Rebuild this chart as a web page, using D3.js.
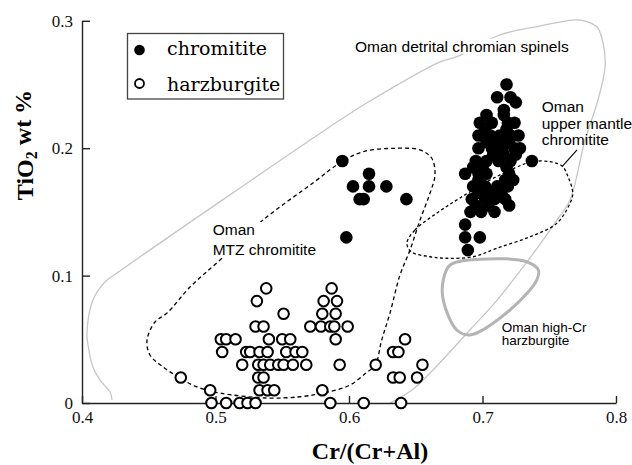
<!DOCTYPE html>
<html>
<head>
<meta charset="utf-8">
<script src="https://cdn.jsdelivr.net/npm/d3@7"></script>
<style>
  body { margin: 0; background: #fff; }
  svg { display: block; }
</style>
</head>
<body>
<svg id="chart" width="632" height="465"></svg>
<script>
// axis ticks
const xTicks = [0.4, 0.5, 0.6, 0.7, 0.8];
const yTicks = [0, 0.1, 0.2, 0.3];

// [Cr/(Cr+Al), TiO2 wt %]
const chromitite = [
    [0.595, 0.19], [0.615, 0.18], [0.603, 0.17], [0.615, 0.17], [0.628, 0.17],
    [0.608, 0.16], [0.611, 0.16], [0.643, 0.16], [0.598, 0.13],
    [0.718, 0.25],
    [0.711, 0.24], [0.721, 0.24], [0.725, 0.236],
    [0.716, 0.23],
    [0.703, 0.226], [0.716, 0.226],
    [0.698, 0.22], [0.707, 0.22], [0.719, 0.22], [0.724, 0.22],
    [0.702, 0.215], [0.718, 0.215],
    [0.697, 0.21], [0.706, 0.21], [0.713, 0.21], [0.721, 0.21], [0.727, 0.21],
    [0.703, 0.205], [0.712, 0.205], [0.720, 0.205],
    [0.697, 0.20], [0.707, 0.20], [0.715, 0.20], [0.724, 0.20], [0.728, 0.20],
    [0.708, 0.195], [0.716, 0.195], [0.725, 0.195],
    [0.695, 0.19], [0.703, 0.19], [0.712, 0.19], [0.721, 0.19], [0.737, 0.19],
    [0.693, 0.185], [0.700, 0.185], [0.718, 0.185],
    [0.687, 0.18], [0.697, 0.18], [0.703, 0.18], [0.720, 0.18],
    [0.697, 0.175], [0.717, 0.175], [0.723, 0.175],
    [0.693, 0.17], [0.702, 0.17], [0.711, 0.17], [0.719, 0.17],
    [0.697, 0.165], [0.706, 0.165], [0.714, 0.165],
    [0.692, 0.16], [0.702, 0.16], [0.709, 0.16], [0.717, 0.16],
    [0.695, 0.155], [0.704, 0.155], [0.720, 0.155],
    [0.691, 0.15], [0.699, 0.15], [0.709, 0.15],
    [0.687, 0.14],
    [0.687, 0.13], [0.698, 0.13],
    [0.689, 0.12]
];

const harzburgite = [
    [0.538, 0.09], [0.587, 0.09],
    [0.531, 0.08], [0.581, 0.08], [0.591, 0.08],
    [0.551, 0.07], [0.580, 0.07], [0.590, 0.07],
    [0.530, 0.06], [0.536, 0.06], [0.571, 0.06], [0.579, 0.06], [0.586, 0.06], [0.589, 0.06], [0.599, 0.06],
    [0.504, 0.05], [0.508, 0.05], [0.515, 0.05], [0.540, 0.05], [0.550, 0.05], [0.556, 0.05], [0.590, 0.05], [0.642, 0.05],
    [0.505, 0.04], [0.523, 0.04], [0.526, 0.04], [0.533, 0.04], [0.539, 0.04], [0.553, 0.04], [0.560, 0.04], [0.565, 0.04], [0.633, 0.04], [0.637, 0.04],
    [0.520, 0.03], [0.532, 0.03], [0.536, 0.03], [0.541, 0.03], [0.547, 0.03], [0.551, 0.03], [0.558, 0.03], [0.568, 0.03], [0.593, 0.03], [0.620, 0.03], [0.655, 0.03],
    [0.474, 0.02], [0.532, 0.02], [0.536, 0.02], [0.633, 0.02], [0.638, 0.02], [0.651, 0.02],
    [0.496, 0.01], [0.533, 0.01], [0.539, 0.01], [0.544, 0.01], [0.580, 0.01],
    [0.497, 0.00], [0.508, 0.00], [0.518, 0.00], [0.524, 0.00], [0.530, 0.00], [0.586, 0.00], [0.611, 0.00], [0.639, 0.00]
];

// field outlines, in data units
const detritalField = [
    [0.6307, 0.0], [0.6472, 0.0102], [0.6607, 0.0235], [0.6906, 0.0573], [0.7109, 0.0808],
    [0.7333, 0.1107], [0.7558, 0.1436], [0.7655, 0.1593], [0.7768, 0.2064], [0.7865, 0.2378],
    [0.7918, 0.2637], [0.7903, 0.2826], [0.7858, 0.2951], [0.7768, 0.2998], [0.7678, 0.3006],
    [0.7431, 0.2959], [0.7131, 0.2889], [0.6809, 0.2718], [0.6682, 0.2677], [0.617, 0.2378],
    [0.5933, 0.2221], [0.4262, 0.102], [0.4172, 0.095], [0.4082, 0.0808], [0.4037, 0.0549],
    [0.4045, 0.0455], [0.4082, 0.0283], [0.4135, 0.018], [0.421, 0.0086], [0.4225, 0.0024]
];

const mtzField = [
    [0.5945, 0.1894], [0.6107, 0.1973], [0.6332, 0.1999], [0.6532, 0.1986], [0.662, 0.1921],
    [0.6644, 0.179], [0.6607, 0.1648], [0.6532, 0.1436], [0.6457, 0.1201], [0.6382, 0.1005],
    [0.6307, 0.0706], [0.6245, 0.0494], [0.6195, 0.0293], [0.6135, 0.0243], [0.6007, 0.0141],
    [0.5805, 0.0078], [0.5633, 0.0049], [0.5386, 0.0039], [0.5034, 0.0078], [0.4861, 0.0126],
    [0.4734, 0.0196], [0.4607, 0.0283], [0.4509, 0.0377], [0.4487, 0.0494], [0.4547, 0.0636],
    [0.4637, 0.0706], [0.4809, 0.091], [0.5034, 0.1122], [0.5356, 0.1436], [0.573, 0.1727]
];

const upperMantleField = [
    [0.6434, 0.1256], [0.6494, 0.1358], [0.6659, 0.1491], [0.6831, 0.1609], [0.7056, 0.175],
    [0.7243, 0.1845], [0.7371, 0.1894], [0.7506, 0.1894], [0.7596, 0.186], [0.7641, 0.1776],
    [0.7676, 0.1646], [0.7655, 0.1567], [0.7556, 0.141], [0.7356, 0.1305], [0.7106, 0.1214],
    [0.6931, 0.1148], [0.6732, 0.1136], [0.6607, 0.1148], [0.6464, 0.1188]
];

const highCrField = [
    [0.6757, 0.1083], [0.6981, 0.1128], [0.7331, 0.1109], [0.7418, 0.1044], [0.7406, 0.0965],
    [0.7206, 0.073], [0.6906, 0.0534], [0.6807, 0.0573], [0.6706, 0.0808], [0.6706, 0.0965]
];

const leader = [[0.7708, 0.1986], [0.7596, 0.1855]];

const svg = d3.select("#chart");

const x = d3.scaleLinear().domain([0.4, 0.8]).range([82, 616]);
const y = d3.scaleLinear().domain([0, 0.3]).range([403, 20.8]);

const line = d3.line().x(d => x(d[0])).y(d => y(d[1]));

// outlines
svg.append("path")
    .attr("d", line.curve(d3.curveCatmullRom)(detritalField))
    .attr("fill", "none")
    .attr("stroke", "#c6c6c6")
    .attr("stroke-width", 1.3);

svg.append("path")
    .attr("d", line.curve(d3.curveCatmullRomClosed)(highCrField))
    .attr("fill", "none")
    .attr("stroke", "#b4b4b4")
    .attr("stroke-width", 3);

svg.append("path")
    .attr("d", line.curve(d3.curveCatmullRomClosed)(mtzField))
    .attr("fill", "none")
    .attr("stroke", "#000")
    .attr("stroke-width", 1.3)
    .attr("stroke-dasharray", "4,3");

svg.append("path")
    .attr("d", line.curve(d3.curveCatmullRomClosed)(upperMantleField))
    .attr("fill", "none")
    .attr("stroke", "#000")
    .attr("stroke-width", 1.3)
    .attr("stroke-dasharray", "3,2.5");

svg.append("path")
    .attr("d", line.curve(d3.curveLinear)(leader))
    .attr("stroke", "#000")
    .attr("stroke-width", 1.1);

// field labels
const notes = [
    {lines: ["Oman detrital chromian spinels"], px: 355, py: 51.7, size: 15.5, lh: 0, bg: true},
    {lines: ["Oman", "upper mantle", "chromitite"], px: 541.7, py: 111.7, size: 15.5, lh: 16.8, bg: false},
    {lines: ["Oman", "MTZ chromitite"], px: 212.7, py: 235, size: 15.5, lh: 20, bg: true},
    {lines: ["Oman high-Cr", "harzburgite"], px: 501.7, py: 331.7, size: 13.5, lh: 13.5, bg: false}
];

notes.forEach(n => {
    const g = svg.append("g");
    const t = g.append("text")
        .attr("font-family", "'Liberation Sans', Arial, sans-serif")
        .attr("font-size", n.size)
        .attr("fill", "#000");
    n.lines.forEach((s, i) => {
        t.append("tspan").attr("x", n.px).attr("y", n.py + i * n.lh).text(s);
    });
    if (n.bg) {
        const b = t.node().getBBox();
        g.insert("rect", "text")
            .attr("x", b.x - 1).attr("y", b.y + 1)
            .attr("width", b.width + 2).attr("height", b.height - 2)
            .attr("fill", "#fff");
    }
});

// axes
const xAxis = d3.axisBottom(x).tickValues(xTicks)
    .tickFormat(d3.format(".1f"))
    .tickSizeInner(-7).tickSizeOuter(0).tickPadding(8);
const yAxis = d3.axisLeft(y).tickValues(yTicks)
    .tickFormat(d => d === 0 ? "0" : d3.format(".1f")(d))
    .tickSizeInner(-8).tickSizeOuter(0).tickPadding(9);

const gx = svg.append("g").attr("transform", "translate(0,403)").call(xAxis);
const gy = svg.append("g").attr("transform", "translate(82,0)").call(yAxis);

[gx, gy].forEach(g => {
    g.attr("font-family", "'Liberation Serif', 'Times New Roman', serif")
        .attr("font-size", 17);
    g.selectAll("path, line").attr("stroke", "#222").attr("stroke-width", 1.4);
    g.selectAll("text").attr("fill", "#111");
});

// axis titles
svg.append("text")
    .attr("x", 370).attr("y", 459)
    .attr("text-anchor", "middle")
    .attr("font-family", "'Liberation Serif', 'Times New Roman', serif")
    .attr("font-weight", "bold")
    .attr("font-size", 24)
    .text("Cr/(Cr+Al)");

const yt = svg.append("text")
    .attr("transform", "translate(33,145) rotate(-90)")
    .attr("text-anchor", "middle")
    .attr("font-family", "'Liberation Serif', 'Times New Roman', serif")
    .attr("font-weight", "bold")
    .attr("font-size", 24);
yt.append("tspan").text("TiO");
yt.append("tspan").attr("font-size", 16).attr("dy", "0.25em").text("2");
yt.append("tspan").attr("dy", "-0.25em").text(" wt %");

// points
svg.append("g").selectAll("circle")
    .data(harzburgite)
    .join("circle")
    .attr("cx", d => x(d[0]))
    .attr("cy", d => y(d[1]))
    .attr("r", 5.3)
    .attr("fill", "#fff")
    .attr("stroke", "#000")
    .attr("stroke-width", 2);

svg.append("g").selectAll("circle")
    .data(chromitite)
    .join("circle")
    .attr("cx", d => x(d[0]))
    .attr("cy", d => y(d[1]))
    .attr("r", 6.3)
    .attr("fill", "#000");

// legend
const legend = svg.append("g");
legend.append("rect")
    .attr("x", 127.5).attr("y", 33.5)
    .attr("width", 156).attr("height", 65.5)
    .attr("fill", "#fff")
    .attr("stroke", "#444")
    .attr("stroke-width", 1.3);
legend.append("circle").attr("cx", 139.5).attr("cy", 50).attr("r", 5.3).attr("fill", "#000");
legend.append("circle").attr("cx", 139.5).attr("cy", 83.5).attr("r", 4.5)
    .attr("fill", "#fff").attr("stroke", "#000").attr("stroke-width", 1.8);
legend.append("text").attr("x", 167).attr("y", 55)
    .attr("font-family", "'DejaVu Serif', serif").attr("font-size", 19)
    .text("chromitite");
legend.append("text").attr("x", 167).attr("y", 90.5)
    .attr("font-family", "'DejaVu Serif', serif").attr("font-size", 19)
    .text("harzburgite");
</script>
</body>
</html>
